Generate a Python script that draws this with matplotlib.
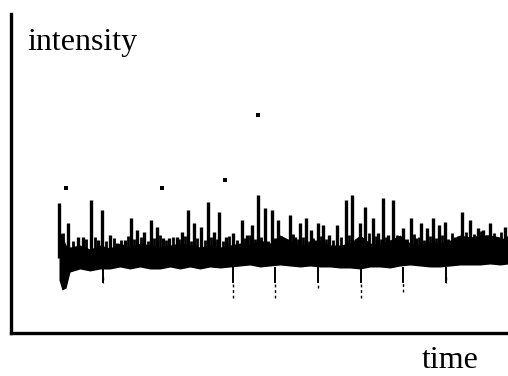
import matplotlib
matplotlib.use("Agg")
import matplotlib.pyplot as plt
import numpy as np

# trace (time and intensity in arbitrary units)
band_t = [48, 51, 55, 59, 69, 79, 89, 99, 109, 119,
          129, 139, 149, 159, 169, 179, 189, 199, 209, 219,
          229, 239, 249, 259, 269, 279, 289, 299, 309, 319,
          329, 339, 349, 359, 369, 379, 389, 399, 409, 419,
          429, 439, 449, 459, 469, 479, 489, 497]
band_lo = [53, 43, 45, 61, 64, 62, 64, 64, 66, 64,
           66, 64, 64, 66, 64, 66, 64, 66, 65, 66,
           67, 68, 66, 67, 68, 67, 66, 67, 66, 66,
           65, 65, 64, 66, 66, 65, 67, 68, 67, 66,
           66, 67, 68, 68, 68, 69, 68, 69]
band_hi = [103, 98, 88, 86, 88, 84, 88, 85, 90, 86,
           90, 88, 86, 88, 90, 88, 86, 88, 86, 88,
           90, 88, 93, 90, 98, 93, 88, 90, 93, 88,
           88, 90, 98, 90, 88, 93, 98, 90, 88, 91,
           90, 93, 98, 96, 98, 98, 96, 93]

spike_t = [48, 57, 67, 72, 80, 87, 91, 99, 106, 114, 120, 126, 133, 140, 146,
           152, 158, 166, 171, 177, 183, 190, 197, 203, 208, 215, 222, 231, 236,
           241, 247, 254, 261, 267, 272, 279, 284, 289, 295, 300, 304, 307, 312,
           318, 326, 335, 341, 349, 354, 362, 367, 372, 377, 382, 392, 400, 405,
           410, 416, 422, 428, 434, 444, 451, 459, 467, 472, 479, 487, 494]
spike_top = [130, 110, 96, 96, 133, 93, 123, 98, 90, 93, 115, 103, 101, 113, 106,
             95, 95, 96, 101, 123, 110, 106, 131, 101, 121, 96, 100, 113, 98,
             108, 138, 125, 123, 113, 95, 118, 96, 110, 115, 103, 93, 110, 108,
             98, 108, 133, 138, 110, 126, 115, 100, 135, 98, 133, 105, 115, 95,
             110, 105, 115, 108, 111, 96, 121, 113, 105, 103, 110, 95, 106]

minor_t = [52, 62, 75, 84, 95, 103, 110, 117, 123, 130, 137, 143, 149, 155, 162,
           168, 174, 180, 186, 194, 200, 206, 212, 218, 226, 234, 239, 244, 250,
           257, 264, 270, 276, 282, 287, 292, 298, 302, 310, 315, 322, 330, 338,
           345, 352, 358, 365, 370, 375, 380, 386, 389, 396, 403, 408, 413, 419,
           425, 431, 437, 441, 447, 455, 463, 470, 476, 483, 490, 496]
minor_top = [100, 92, 94, 96, 92, 95, 93, 97, 94, 96, 92, 95, 98, 93, 96,
             94, 97, 92, 95, 93, 96, 94, 92, 97, 93, 95, 98, 94, 96,
             92, 95, 97, 93, 99, 94, 96, 92, 95, 97, 94, 93, 96, 98,
             94, 95, 100, 97, 94, 96, 93, 98, 95, 94, 99, 96, 93, 97,
             95, 98, 94, 100, 97, 101, 99, 102, 98, 100, 101, 97]

dip_t = [92, 222, 264, 307, 350, 392, 435]
dip_low = [56, 35, 35, 45, 35, 41, 56]

dot_t = [55, 151, 214, 247]
dot_i = [145, 145, 153, 218]

fig = plt.figure(figsize=(5.08, 3.76), dpi=100)
ax = fig.add_axes([11/508, 43/376, 497/508, 319/376])

ax.fill_between(band_t, band_lo, band_hi, color='black', lw=0)
ax.vlines(minor_t, 75, minor_top, color='black', lw=2.0)
ax.vlines(spike_t, 75, spike_top, color='black', lw=2.4)
ax.vlines(dip_t, 50, 66, color='black', lw=1.4)
ax.vlines(dip_t, dip_low, 50, color='black', lw=1.0, linestyles=(0, (2, 2)))
ax.scatter(dot_t, dot_i, s=6, color='black', marker='s', lw=0)

ax.set_xlim(0, 497)
ax.set_ylim(0, 319)
ax.set_xticks([])
ax.set_yticks([])
for side in ['top', 'right']:
    ax.spines[side].set_visible(False)
for side in ['left', 'bottom']:
    ax.spines[side].set_linewidth(2.4)
    ax.spines[side].set_color('black')

fig.text(27/508, 1 - 50/376, 'intensity', family='Liberation Serif',
         fontsize=23, va='baseline', ha='left')
fig.text(422/508, 1 - 368/376, 'time', family='Liberation Serif',
         fontsize=23, va='baseline', ha='left')

fig.savefig('out.png', dpi=100)
